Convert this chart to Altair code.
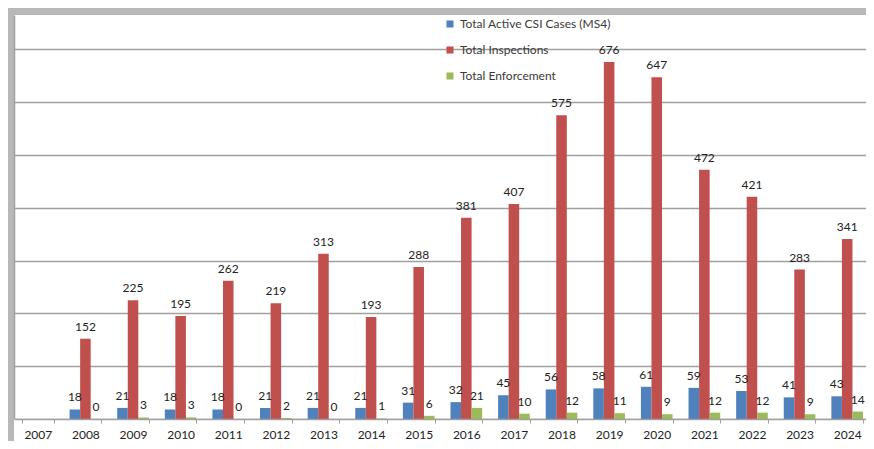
import altair as alt
import pandas as pd

years = [str(y) for y in range(2007, 2025)]
cases = [None, 18, 21, 18, 18, 21, 21, 21, 31, 32, 45, 56, 58, 61, 59, 53, 41, 43]
inspections = [None, 152, 225, 195, 262, 219, 313, 193, 288, 381, 407, 575, 676, 647, 472, 421, 283, 341]
enforcement = [None, 0, 3, 3, 0, 2, 0, 1, 6, 21, 10, 12, 11, 9, 12, 12, 9, 14]
series_names = ["Total Active CSI Cases (MS4)", "Total Inspections", "Total Enforcement"]
colors = ["#4F81BD", "#C0504D", "#9BBB59"]
grid_values = [0, 100, 200, 300, 400, 500, 600, 700]

rows = []
for i, yr in enumerate(years):
    for s, vals in zip(series_names, [cases, inspections, enforcement]):
        if vals[i] is not None:
            rows.append({"year": yr, "series": s, "value": vals[i]})
df = pd.DataFrame(rows)

W, H = 852, 404
FONT = "Lato"

x_enc = alt.X(
    "year:N",
    scale=alt.Scale(domain=years, range=[0, 857], paddingInner=0.335, paddingOuter=0.1675),
    axis=alt.Axis(
        title=None, labelAngle=0, tickBand="extent", zindex=1,
        domainColor="#a0a0a0", domainWidth=1.5, tickColor="#a0a0a0", tickSize=4,
        labelFont=FONT, labelFontSize=12, labelColor="#222222", labelPadding=6,
        grid=False,
    ),
)
y_enc = alt.Y(
    "value:Q",
    scale=alt.Scale(domain=[0, 765], nice=False, zero=True),
    axis=alt.Axis(
        title=None, labels=False, ticks=False, values=grid_values,
        gridColor="#a0a0a0", gridWidth=1.5, domainColor="#a0a0a0", domainWidth=1.5,
    ),
)
xo_enc = alt.XOffset(
    "series:N", sort=series_names,
    scale=alt.Scale(domain=series_names, paddingInner=0, paddingOuter=0),
)

base = alt.Chart(df)

bars = base.mark_bar().encode(
    x=x_enc,
    xOffset=xo_enc,
    y=y_enc,
    color=alt.Color(
        "series:N",
        scale=alt.Scale(domain=series_names, range=colors),
        legend=alt.Legend(
            title=None, orient="none", legendX=430, legendY=3, direction="vertical",
            symbolType="square", symbolSize=50, symbolStrokeWidth=0,
            labelFont=FONT, labelFontSize=12, labelColor="#3a3a3a", rowPadding=14,
        ),
    ),
)

labels = base.mark_text(
    baseline="alphabetic", dy=-8, fontSize=12, font=FONT, color="#222222"
).encode(
    x=x_enc,
    xOffset=xo_enc,
    y=y_enc,
    text=alt.Text("value:Q"),
)

under = alt.Chart(alt.Data(values=[{"a": 1}])).mark_rect(color="white").encode(
    x=alt.value(0), x2=alt.value(W), y=alt.value(H), y2=alt.value(H + 30)
)

chart = (
    alt.layer(under, bars, labels)
    .properties(
        width=W, height=H,
        autosize=alt.AutoSizeParams(type="none"),
        padding={"left": 6, "top": 7, "right": 0, "bottom": 22},
        background="#b8b8b8",
    )
    .configure_view(fill="white", strokeWidth=0)
)

chart.save("out.html", embed_options={"renderer": "svg", "actions": False})
